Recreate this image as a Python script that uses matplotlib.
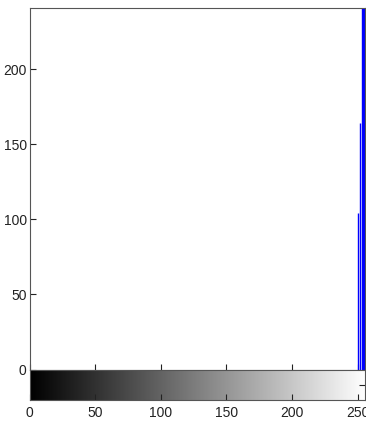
import numpy as np
import matplotlib
matplotlib.use("Agg")
import matplotlib.pyplot as plt

# Histogram data (gray levels and counts); counts beyond axis top are clipped
levels = [250, 252, 253, 254, 255]
counts = [104, 164, 900, 1500, 2500]
y_ticks = [0, 50, 100, 150, 200]
x_ticks = [0, 50, 100, 150, 200, 250]

plt.rcParams['font.family'] = ['Liberation Sans', 'DejaVu Sans']

W, H = 366, 424
fig = plt.figure(figsize=(W / 100, H / 100), dpi=100)
left = 29.5 / W
right = 365 / W
ax = fig.add_axes([left, (H - 369.5) / H, right - left, (369.5 - 7.5) / H])
cax = fig.add_axes([left, (H - 400) / H, right - left, 30 / H])

ax.vlines(levels, 0, counts, colors='#0000ff', lw=1.0)
ax.set_xlim(0, 255.6)
ax.set_ylim(0, 241)
ax.set_yticks(y_ticks)
ax.set_xticks(x_ticks)
ax.set_xticklabels([])
ax.tick_params(direction='in', length=4, labelsize=10, colors='#222222', width=0.8, pad=2)
for s in ax.spines.values():
    s.set_color('#555555')
    s.set_linewidth(0.8)

grad = np.arange(256).reshape(1, -1)
cax.imshow(grad, cmap='gray', aspect='auto', extent=[0, 255.6, 0, 1], vmin=0, vmax=255)
cax.set_xlim(0, 255.6)
cax.set_ylim(0, 1)
cax.set_xticks(x_ticks)
cax.set_yticks([0.5])
cax.set_yticklabels([])
cax.yaxis.tick_right()
cax.tick_params(direction='in', length=4, labelsize=10, colors='#222222', width=0.8, pad=4)
for s in cax.spines.values():
    s.set_color('#555555')
    s.set_linewidth(0.8)

fig.savefig("out.png", dpi=100, facecolor='white')
